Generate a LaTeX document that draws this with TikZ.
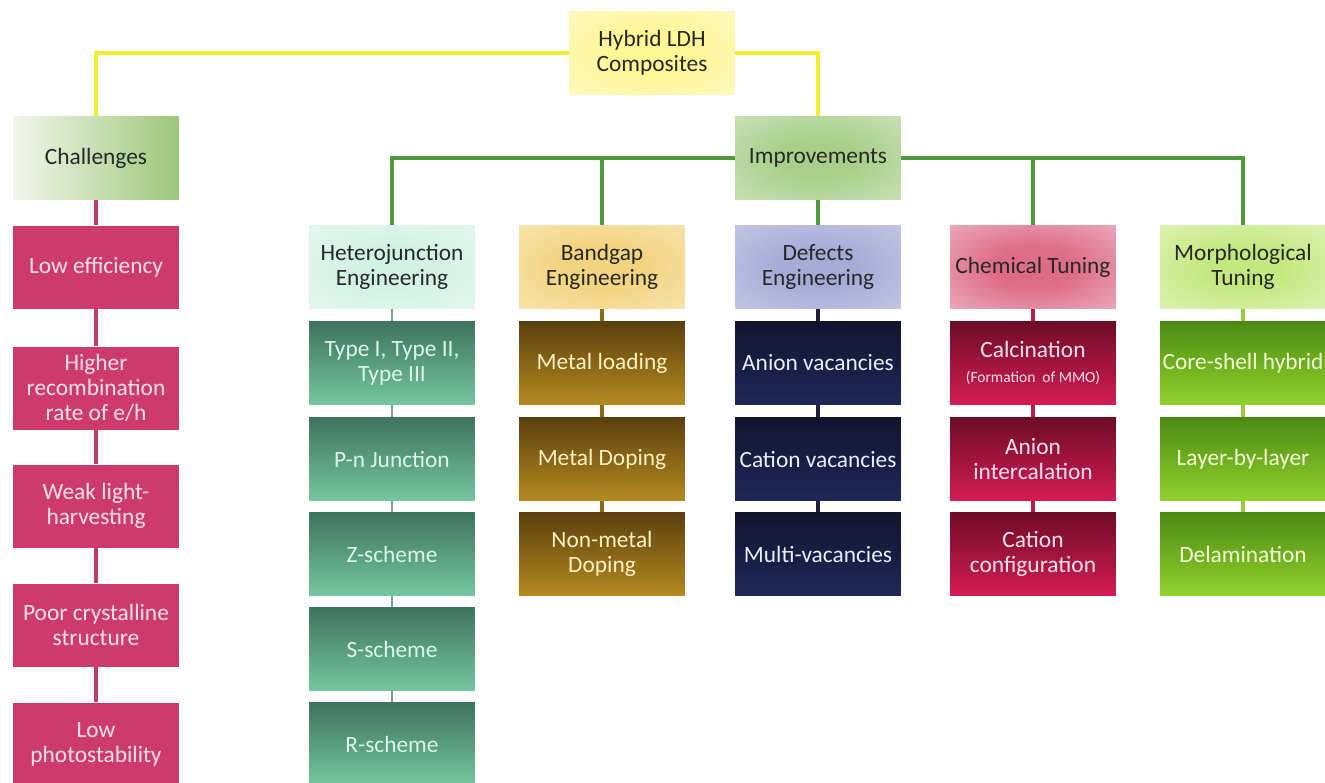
\documentclass[tikz,border=0pt]{standalone}
\usepackage{fontspec}
\setmainfont{Carlito}
\usetikzlibrary{positioning}

\definecolor{headtext}{RGB}{40,40,40}
\definecolor{rootline}{RGB}{242,238,48}
\definecolor{improveline}{RGB}{78,154,60}
\definecolor{chalfill}{RGB}{207,58,108}
\definecolor{challine}{RGB}{194,58,102}
\definecolor{challtext}{RGB}{250,226,236}
\definecolor{heterotop}{RGB}{62,116,94}
\definecolor{heterobot}{RGB}{116,198,160}
\definecolor{heteroline}{RGB}{128,160,150}
\definecolor{heterotext}{RGB}{218,245,232}
\definecolor{bandtop}{RGB}{90,64,14}
\definecolor{bandbot}{RGB}{182,138,30}
\definecolor{bandline}{RGB}{140,106,28}
\definecolor{bandtext}{RGB}{255,240,196}
\definecolor{defecttop}{RGB}{18,20,46}
\definecolor{defectbot}{RGB}{30,40,88}
\definecolor{defectline}{RGB}{28,32,64}
\definecolor{defecttext}{RGB}{234,236,246}
\definecolor{chemtop}{RGB}{110,12,40}
\definecolor{chembot}{RGB}{212,28,82}
\definecolor{chemline}{RGB}{181,30,74}
\definecolor{chemtext}{RGB}{252,226,234}
\definecolor{morphtop}{RGB}{76,138,20}
\definecolor{morphbot}{RGB}{146,210,44}
\definecolor{morphline}{RGB}{150,204,60}
\definecolor{morphtext}{RGB}{242,250,214}

% soft glow for the header boxes
\colorlet{glowin}{white}
\colorlet{glowout}{white}
\pgfdeclareradialshading[glowin,glowout]{glow}{\pgfpoint{0bp}{0bp}}{%
  color(0bp)=(glowin); color(12bp)=(glowin); color(50bp)=(glowout)}

\tikzset{
  box/.style={minimum width=3.32cm, minimum height=1.66cm, align=center,
    inner sep=0pt, font=\fontsize{13.3}{14.3}\selectfont},
  head/.style 2 args={box, text=headtext,
    /utils/exec={\colorlet{glowin}{#1}\colorlet{glowout}{#2}},
    shade, shading=glow},
  chalbox/.style={box, fill=chalfill, text=challtext},
  heterobox/.style={box, top color=heterotop, bottom color=heterobot, text=heterotext},
  bandbox/.style={box, top color=bandtop, bottom color=bandbot, text=bandtext},
  defectbox/.style={box, top color=defecttop, bottom color=defectbot, text=defecttext},
  chembox/.style={box, top color=chemtop, bottom color=chembot, text=chemtext},
  morphbox/.style={box, top color=morphtop, bottom color=morphbot, text=morphtext},
  link/.style={line width=2.2pt}
}

\begin{document}
\begin{tikzpicture}[x=0.02cm, y=-0.02cm]
  \useasboundingbox (0,0) rectangle (1325,782);

  % top level
  \node [head={rgb,255:red,255;green,246;blue,150}{rgb,255:red,255;green,251;blue,214}] (root) at (652,53) {Hybrid LDH\\Composites};
  \node [box, text=headtext, left color={rgb,255:red,242;green,246;blue,234}, right color={rgb,255:red,156;green,199;blue,122}] (chall) at (96,158) {Challenges};
  \node [head={rgb,255:red,168;green,208;blue,138}{rgb,255:red,218;green,234;blue,206}] (impr) at (818,158) {Improvements};
  \draw [link, rootline] (root.west) -| (chall.north);
  \draw [link, rootline] (root.east) -| (impr.north);

  % challenges column
  \node [chalbox] (low) at (96,267) {Low efficiency};
  \node [chalbox] (recomb) at (96,388) {Higher\\recombination\\rate of e/h};
  \node [chalbox] (weak) at (96,506) {Weak light-\\harvesting};
  \node [chalbox] (poor) at (96,625) {Poor crystalline\\structure};
  \node [chalbox] (stab) at (96,744) {Low\\photostability};
  \draw [link, challine] (chall) -- (low);
  \draw [link, challine] (low) -- (recomb);
  \draw [link, challine] (recomb) -- (weak);
  \draw [link, challine] (weak) -- (poor);
  \draw [link, challine] (poor) -- (stab);

  % improvement branches
  \node [head={rgb,255:red,210;green,242;blue,228}{rgb,255:red,238;green,250;blue,244}] (hetero) at (392,267) {Heterojunction\\Engineering};
  \node [head={rgb,255:red,242;green,212;blue,128}{rgb,255:red,250;green,236;blue,196}] (band) at (602,267) {Bandgap\\Engineering};
  \node [head={rgb,255:red,166;green,172;blue,214}{rgb,255:red,210;green,213;blue,235}] (defect) at (818,267) {Defects\\Engineering};
  \node [head={rgb,255:red,222;green,108;blue,136}{rgb,255:red,242;green,204;blue,214}] (chem) at (1033,267) {Chemical Tuning};
  \node [head={rgb,255:red,196;green,232;blue,128}{rgb,255:red,234;green,248;blue,206}] (morph) at (1243,267) {Morphological\\Tuning};
  \draw [link, improveline] (impr.west) -| (hetero.north);
  \draw [link, improveline] (impr.west) -| (band.north);
  \draw [link, improveline] (impr) -- (defect);
  \draw [link, improveline] (impr.east) -| (chem.north);
  \draw [link, improveline] (impr.east) -| (morph.north);

  % heterojunction
  \node [heterobox] (typ) at (392,363) {Type I, Type II,\\Type III};
  \node [heterobox] (pn) at (392,459) {P-n Junction};
  \node [heterobox] (zs) at (392,554) {Z-scheme};
  \node [heterobox] (ss) at (392,649) {S-scheme};
  \node [heterobox] (rs) at (392,744) {R-scheme};
  \draw [link, line width=1.5pt, heteroline] (hetero) -- (typ);
  \draw [link, line width=1.5pt, heteroline] (typ) -- (pn);
  \draw [link, line width=1.5pt, heteroline] (pn) -- (zs);
  \draw [link, line width=1.5pt, heteroline] (zs) -- (ss);
  \draw [link, line width=1.5pt, heteroline] (ss) -- (rs);

  % bandgap
  \node [bandbox] (mload) at (602,363) {Metal loading};
  \node [bandbox] (mdop) at (602,459) {Metal Doping};
  \node [bandbox] (nmdop) at (602,554) {Non-metal\\Doping};
  \draw [link, bandline] (band) -- (mload);
  \draw [link, bandline] (mload) -- (mdop);
  \draw [link, bandline] (mdop) -- (nmdop);

  % defects
  \node [defectbox] (anvac) at (818,363) {Anion vacancies};
  \node [defectbox] (catvac) at (818,459) {Cation vacancies};
  \node [defectbox] (multvac) at (818,554) {Multi-vacancies};
  \draw [link, defectline] (defect) -- (anvac);
  \draw [link, defectline] (anvac) -- (catvac);
  \draw [link, defectline] (catvac) -- (multvac);

  % chemical tuning
  \node [chembox] (calc) at (1033,363) {Calcination\\{\fontsize{8.8}{11}\selectfont (Formation\ \ of MMO)}};
  \node [chembox] (aninter) at (1033,459) {Anion\\intercalation};
  \node [chembox] (catconf) at (1033,554) {Cation\\configuration};
  \draw [link, chemline] (chem) -- (calc);
  \draw [link, chemline] (calc) -- (aninter);
  \draw [link, chemline] (aninter) -- (catconf);

  % morphological tuning
  \node [morphbox] (core) at (1243,363) {Core-shell hybrid};
  \node [morphbox] (lbl) at (1243,459) {Layer-by-layer};
  \node [morphbox] (delam) at (1243,554) {Delamination};
  \draw [link, morphline] (morph) -- (core);
  \draw [link, morphline] (core) -- (lbl);
  \draw [link, morphline] (lbl) -- (delam);
\end{tikzpicture}
\end{document}
